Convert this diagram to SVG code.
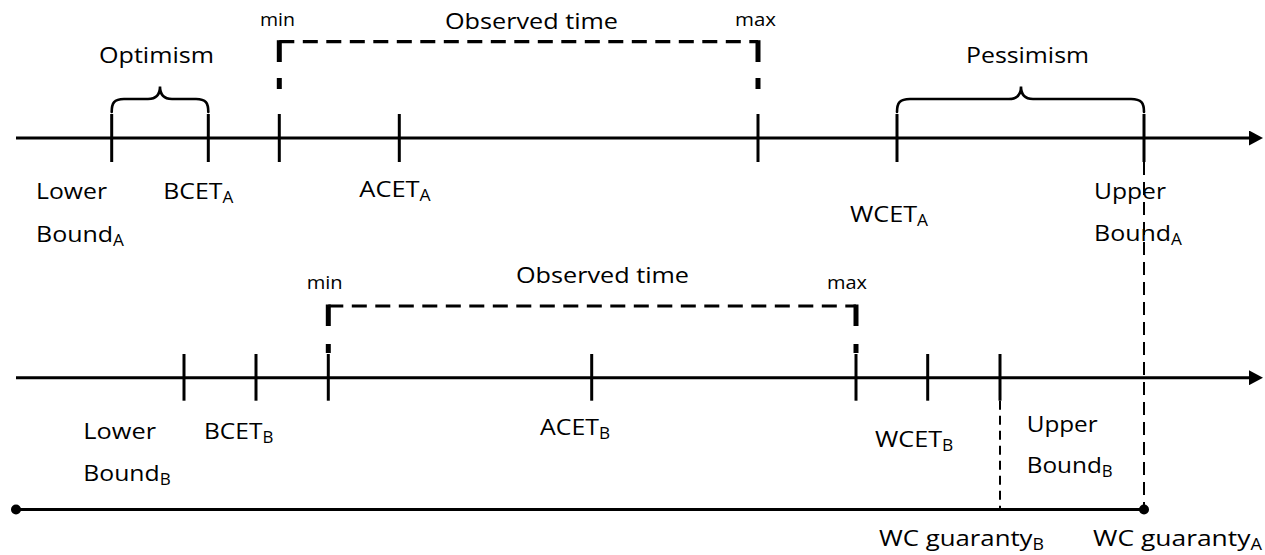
<svg xmlns="http://www.w3.org/2000/svg" width="1265" height="555" viewBox="0 0 1265 555">
  <style>
    .axis { stroke: #000; stroke-width: 3; fill: none; }
    .tick { stroke: #000; stroke-width: 3; fill: none; }
    .brace { stroke: #000; stroke-width: 2.6; fill: none; stroke-linecap: round; }
    .obs { stroke: #000; stroke-width: 3.2; fill: none; stroke-dasharray: 15 8.5; }
    .obs-leg { stroke: #000; stroke-width: 5; fill: none; }
    .guide-a { stroke: #000; stroke-width: 2; fill: none; stroke-dasharray: 13 7; }
    .guide-b { stroke: #000; stroke-width: 2; fill: none; stroke-dasharray: 9 6; }
    text { font-family: "Open Sans", "Noto Sans", "DejaVu Sans", sans-serif; font-size: 22.5px; fill: #000; }
    text.small { font-size: 18px; }
    .sub { font-size: 15.5px; }
  </style>
  <defs>
    <marker id="arrow" viewBox="0 0 14 15" refX="0" refY="7.5" markerWidth="14" markerHeight="15" markerUnits="userSpaceOnUse" orient="auto">
      <path d="M0 0 L14 7.5 L0 15 Z" fill="#000"/>
    </marker>
  </defs>

  <!-- timeline A -->
  <g id="axis-a">
    <line class="axis" x1="16" y1="138" x2="1249" y2="138" marker-end="url(#arrow)"/>
  </g>
  <!-- timeline B -->
  <g id="axis-b">
    <line class="axis" x1="16" y1="377.7" x2="1249" y2="377.7" marker-end="url(#arrow)"/>
  </g>
  <!-- guaranty line -->
  <g id="guaranty-line">
    <line class="axis" x1="16" y1="509.5" x2="1144" y2="509.5"/>
    <circle cx="16" cy="509.5" r="5"/>
    <circle cx="1144" cy="509.5" r="5"/>
  </g>

  <!-- A marks -->
  <g id="lower-bound-a">
    <line class="tick" x1="111.7" y1="114" x2="111.7" y2="162"/>
    <text x="36" y="199" textLength="71" lengthAdjust="spacingAndGlyphs">Lower</text>
    <text x="36" y="241.7" textLength="88" lengthAdjust="spacingAndGlyphs">Bound<tspan class="sub" dy="4">A</tspan></text>
  </g>
  <g id="bcet-a">
    <line class="tick" x1="208.3" y1="114" x2="208.3" y2="162"/>
    <text x="163.3" y="199" textLength="70" lengthAdjust="spacingAndGlyphs">BCET<tspan class="sub" dy="4">A</tspan></text>
  </g>
  <g id="min-a">
    <line class="tick" x1="279.3" y1="114" x2="279.3" y2="162"/>
    <text class="small" x="260" y="26" textLength="35" lengthAdjust="spacingAndGlyphs">min</text>
  </g>
  <g id="acet-a">
    <line class="tick" x1="399.3" y1="114" x2="399.3" y2="162"/>
    <text x="359.3" y="197" textLength="71.4" lengthAdjust="spacingAndGlyphs">ACET<tspan class="sub" dy="4">A</tspan></text>
  </g>
  <g id="max-a">
    <line class="tick" x1="758" y1="114" x2="758" y2="162"/>
    <text class="small" x="735" y="26" textLength="41" lengthAdjust="spacingAndGlyphs">max</text>
  </g>
  <g id="wcet-a">
    <line class="tick" x1="897" y1="114" x2="897" y2="162"/>
    <text x="850" y="222" textLength="78" lengthAdjust="spacingAndGlyphs">WCET<tspan class="sub" dy="4">A</tspan></text>
  </g>
  <g id="upper-bound-a">
    <line class="tick" x1="1144" y1="114" x2="1144" y2="162"/>
    <text x="1094" y="198.5" textLength="72" lengthAdjust="spacingAndGlyphs">Upper</text>
    <text x="1094" y="241" textLength="88" lengthAdjust="spacingAndGlyphs">Bound<tspan class="sub" dy="4">A</tspan></text>
  </g>
  <g id="optimism">
    <path class="brace" d="M111.7 112 C111.7 103 114 99 124 99 L148 99 C156 99 160 95 160 86.5 C160 95 164 99 172 99 L196 99 C206 99 208.3 103 208.3 112"/>
    <text x="99" y="63" textLength="115" lengthAdjust="spacingAndGlyphs">Optimism</text>
  </g>
  <g id="pessimism">
    <path class="brace" d="M897 112 C897 103 899.5 99 910 99 L1009 99 C1017 99 1021 95 1021 86.5 C1021 95 1025 99 1033 99 L1131 99 C1141.5 99 1144 103 1144 112"/>
    <text x="966" y="63" textLength="123" lengthAdjust="spacingAndGlyphs">Pessimism</text>
  </g>
  <g id="observed-a">
    <text x="445" y="29" textLength="173" lengthAdjust="spacingAndGlyphs">Observed time</text>
  </g>

  <!-- B marks -->
  <g id="lower-bound-b">
    <line class="tick" x1="184" y1="354" x2="184" y2="400.7"/>
    <text x="83.3" y="439.3" textLength="72.7" lengthAdjust="spacingAndGlyphs">Lower</text>
    <text x="83.3" y="481" textLength="87.4" lengthAdjust="spacingAndGlyphs">Bound<tspan class="sub" dy="4">B</tspan></text>
  </g>
  <g id="bcet-b">
    <line class="tick" x1="256" y1="354" x2="256" y2="400.7"/>
    <text x="204" y="439.3" textLength="69.3" lengthAdjust="spacingAndGlyphs">BCET<tspan class="sub" dy="4">B</tspan></text>
  </g>
  <g id="min-b">
    <line class="tick" x1="328.3" y1="354" x2="328.3" y2="400.7"/>
    <text class="small" x="306.7" y="289" textLength="36" lengthAdjust="spacingAndGlyphs">min</text>
  </g>
  <g id="acet-b">
    <line class="tick" x1="591.7" y1="354" x2="591.7" y2="400.7"/>
    <text x="540" y="435" textLength="70" lengthAdjust="spacingAndGlyphs">ACET<tspan class="sub" dy="4">B</tspan></text>
  </g>
  <g id="max-b">
    <line class="tick" x1="856" y1="354" x2="856" y2="400.7"/>
    <text class="small" x="827" y="289" textLength="40" lengthAdjust="spacingAndGlyphs">max</text>
  </g>
  <g id="wcet-b">
    <line class="tick" x1="927.7" y1="354" x2="927.7" y2="400.7"/>
    <text x="875" y="446.7" textLength="78.3" lengthAdjust="spacingAndGlyphs">WCET<tspan class="sub" dy="4">B</tspan></text>
  </g>
  <g id="upper-bound-b">
    <line class="tick" x1="1000" y1="354" x2="1000" y2="400.7"/>
    <text x="1026.7" y="431.7" textLength="71" lengthAdjust="spacingAndGlyphs">Upper</text>
    <text x="1026.7" y="473.3" textLength="86" lengthAdjust="spacingAndGlyphs">Bound<tspan class="sub" dy="4">B</tspan></text>
  </g>
  <g id="observed-b">
    <text x="516" y="283.3" textLength="173" lengthAdjust="spacingAndGlyphs">Observed time</text>
  </g>

  <!-- guaranty labels -->
  <g id="wc-guaranty-b">
    <text x="879" y="546" textLength="165" lengthAdjust="spacingAndGlyphs">WC guaranty<tspan class="sub" dy="4">B</tspan></text>
  </g>
  <g id="wc-guaranty-a">
    <text x="1093" y="546" textLength="169" lengthAdjust="spacingAndGlyphs">WC guaranty<tspan class="sub" dy="4">A</tspan></text>
  </g>

  <!-- connectors: observed-time spans and guaranty drop lines -->
  <g id="connectors">
    <line class="obs" x1="279.3" y1="41.7" x2="758" y2="41.7"/>
    <line class="obs-leg" x1="279.3" y1="40.2" x2="279.3" y2="62"/>
    <line class="obs-leg" x1="279.3" y1="78" x2="279.3" y2="89"/>
    <line class="obs-leg" x1="758" y1="40.2" x2="758" y2="62"/>
    <line class="obs-leg" x1="758" y1="78" x2="758" y2="89"/>

    <line class="obs" x1="328.3" y1="306" x2="856" y2="306"/>
    <line class="obs-leg" x1="328.3" y1="304.5" x2="328.3" y2="326"/>
    <line class="obs-leg" x1="328.3" y1="344" x2="328.3" y2="353"/>
    <line class="obs-leg" x1="856" y1="304.5" x2="856" y2="326"/>
    <line class="obs-leg" x1="856" y1="344" x2="856" y2="353"/>

    <line class="guide-a" x1="1144" y1="162" x2="1144" y2="509.5"/>
    <line class="guide-b" x1="1000" y1="400.7" x2="1000" y2="509.5"/>
  </g>
</svg>
